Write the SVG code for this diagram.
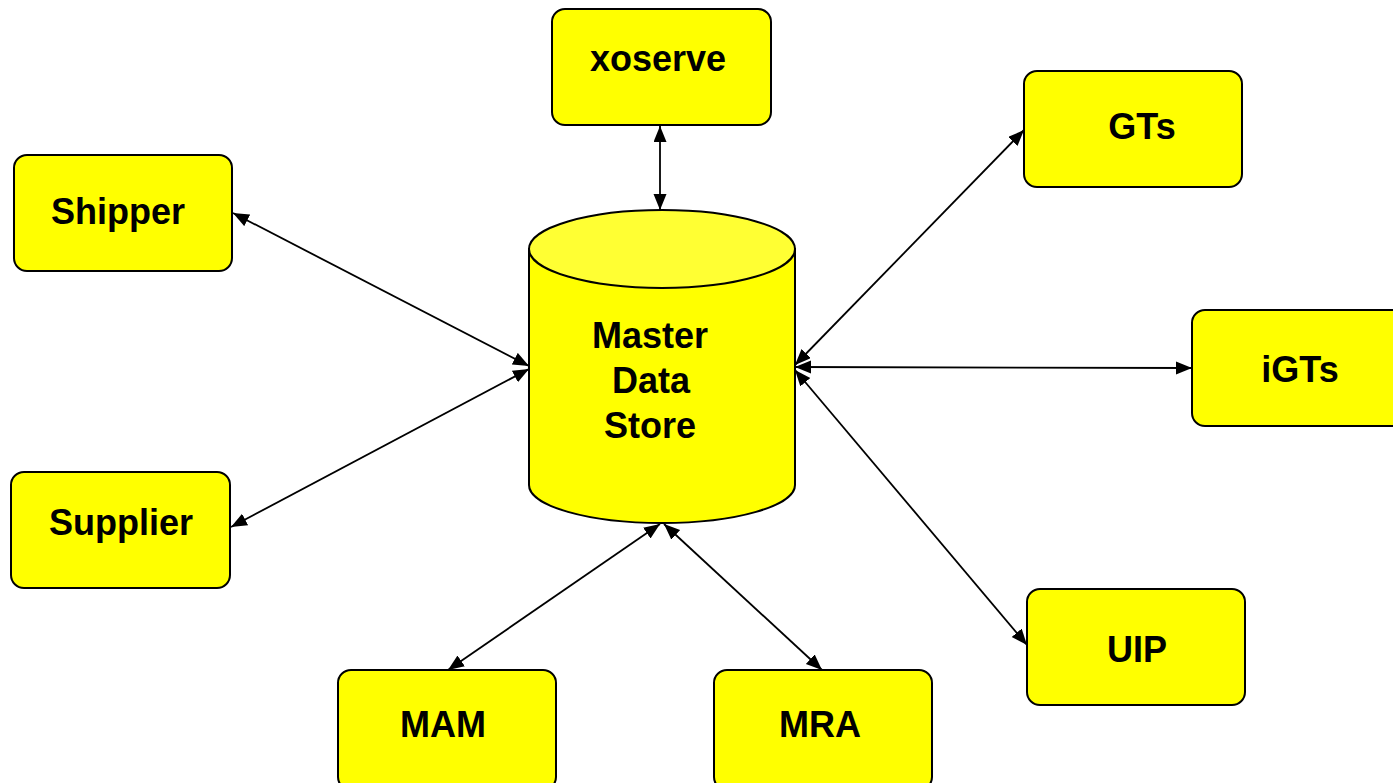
<svg xmlns="http://www.w3.org/2000/svg" width="1393" height="783" viewBox="0 0 1393 783">
<defs>
<style>
.box{fill:#FFFF00;stroke:#000;stroke-width:2}
.lbl{font-family:"Liberation Sans",Arial,sans-serif;font-weight:bold;font-size:36px;fill:#000;text-anchor:middle}
.con{stroke:#000;stroke-width:1.8;fill:none;marker-start:url(#ah);marker-end:url(#ah)}
</style>
<marker id="ah" markerUnits="userSpaceOnUse" markerWidth="18" markerHeight="14" refX="16" refY="6.5" orient="auto-start-reverse">
<path d="M0,0 L16,6.5 L0,13 Z" fill="#000"/>
</marker>
</defs>
<rect width="1393" height="783" fill="#fff"/>
<g id="connectors">
<line class="con" x1="660" y1="126" x2="660" y2="210"/>
<line class="con" x1="233" y1="213" x2="529" y2="366"/>
<line class="con" x1="231" y1="527" x2="529" y2="369"/>
<line class="con" x1="795" y1="365" x2="1024" y2="130"/>
<line class="con" x1="795" y1="367" x2="1192" y2="368"/>
<line class="con" x1="795" y1="370" x2="1027" y2="645"/>
<line class="con" x1="660" y1="524" x2="448" y2="670"/>
<line class="con" x1="664" y1="524" x2="822" y2="670"/>
</g>
<g id="master">
<path class="box" d="M529,249 L529,485 A133,38 0 0 0 795,485 L795,249 Z"/>
<ellipse cx="662" cy="249" rx="133" ry="39" fill="#FFFF33" stroke="#000" stroke-width="2"/>
<text class="lbl" x="650" y="348">Master</text>
<text class="lbl" x="651" y="393">Data</text>
<text class="lbl" x="650" y="438">Store</text>
</g>
<g id="xoserve"><rect class="box" x="552" y="9" width="219" height="116" rx="13"/><text class="lbl" x="658" y="71">xoserve</text></g>
<g id="shipper"><rect class="box" x="14" y="155" width="218" height="116" rx="13"/><text class="lbl" x="118" y="224">Shipper</text></g>
<g id="supplier"><rect class="box" x="11" y="472" width="219" height="116" rx="13"/><text class="lbl" x="121" y="535">Supplier</text></g>
<g id="gts"><rect class="box" x="1024" y="71" width="218" height="116" rx="13"/><text class="lbl" x="1142" y="139">GTs</text></g>
<g id="igts"><rect class="box" x="1192" y="310" width="220" height="116" rx="13"/><text class="lbl" x="1300" y="382">iGTs</text></g>
<g id="uip"><rect class="box" x="1027" y="589" width="218" height="116" rx="13"/><text class="lbl" x="1137" y="662">UIP</text></g>
<g id="mam"><rect class="box" x="338" y="670" width="218" height="120" rx="13"/><text class="lbl" x="443" y="737">MAM</text></g>
<g id="mra"><rect class="box" x="714" y="670" width="218" height="120" rx="13"/><text class="lbl" x="820" y="737">MRA</text></g>
</svg>
